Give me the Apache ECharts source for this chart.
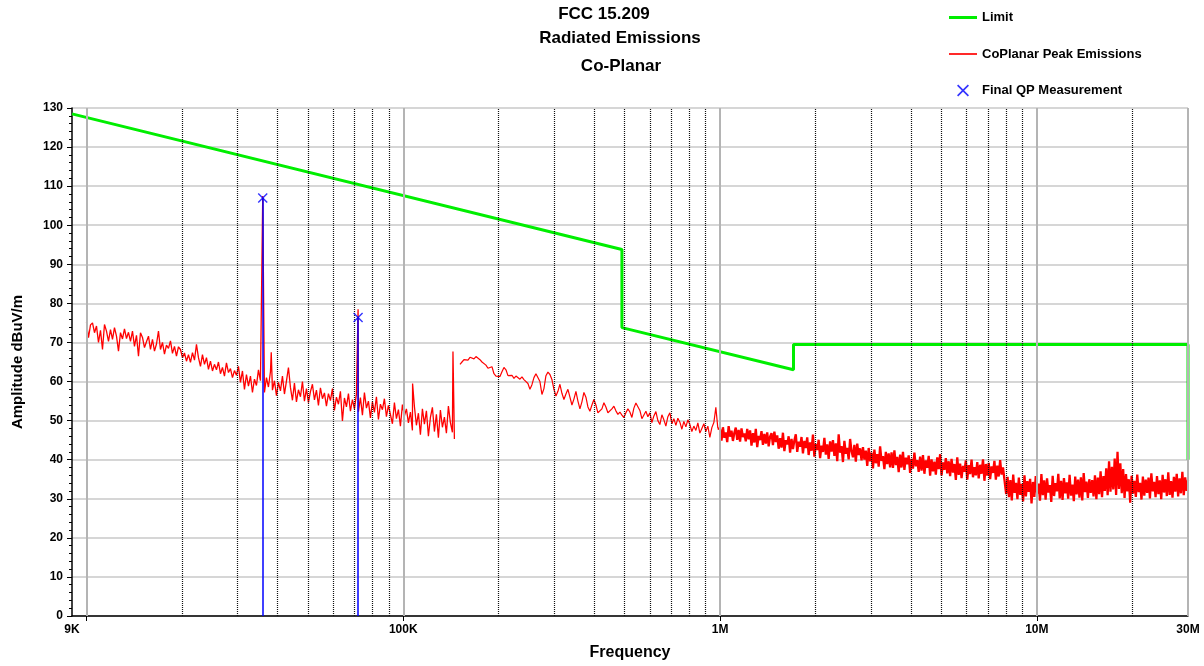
<!DOCTYPE html>
<html>
<head>
<meta charset="utf-8">
<title>FCC 15.209 Radiated Emissions</title>
<script src="https://cdn.jsdelivr.net/npm/echarts@6/dist/echarts.min.js"></script>
<style>
  html, body { margin: 0; padding: 0; background: #fff; }
  #chart { width: 1204px; height: 666px; }
</style>
</head>
<body>
<div id="chart"></div>
<script>
// limit line (dBuV/m)
var limitFreq = [9000, 490000, 490000, 1705000, 1705000, 30000000, 30000000];
var limitLevel = [128.5, 93.8, 73.8, 63.0, 69.5, 69.5, 40.0];

// final QP points
var qpFreq = [36000, 72000];
var qpLevel = [107.0, 76.4];

// peak trace, band 1 : 10K - 145K (sweep points)
var sweepA = [10000, 145000];
var peakA = [
  75.2, 71.2, 74.5, 75.0, 72.5, 74.2, 70.0, 73.1, 68.2, 74.6, 72.9, 70.3, 73.3, 70.8, 73.8, 71.6, 67.8, 72.5, 70.9, 73.5, 71.0, 72.6,
  70.3, 72.9, 69.0, 71.8, 66.5, 72.5, 71.3, 68.7, 70.2, 71.6, 68.2, 70.8, 67.8, 69.6, 72.9, 68.2, 70.0, 67.0, 69.3, 68.5, 70.4, 67.2, 69.0, 66.5, 68.9,
  68.2, 66.1, 67.3, 65.2, 66.9, 64.9, 67.4, 65.5, 69.5, 66.1, 63.9, 66.9, 64.4, 66.1, 63.1, 65.2, 62.7, 64.4, 63.0, 65.0, 62.0, 63.6, 61.4, 64.8, 62.3, 63.3, 61.0, 62.8, 61.6,
  63.9, 59.8, 62.7, 58.0, 61.8, 58.8, 61.4, 57.2, 60.6, 59.0, 63.0, 60.2,
  60.5, 57.2, 61.0, 58.6, 62.5, 57.8, 60.2, 56.4, 59.8, 57.6, 61.4, 56.8, 60.1, 63.6,
  58.5, 55.2, 59.6, 54.8, 57.9, 56.1, 60.0, 55.0, 58.2, 54.6, 57.4, 59.3, 55.3, 57.8, 53.9, 58.4, 55.6, 57.1, 53.7, 56.9, 55.1, 58.2, 52.6, 56.0, 54.2, 57.5, 49.9, 55.8, 53.5, 56.9, 52.4, 55.4, 53.0,
  56.8, 52.3, 55.9, 51.4, 57.2, 53.2, 55.0, 50.7, 54.8, 52.1, 56.1, 50.3, 54.2, 52.8, 55.6, 51.0, 53.9,
  53.4, 49.2, 54.6, 50.5, 52.8, 48.6, 54.1, 51.2, 53.0, 49.4,
  52.2, 47.5, 53.6, 48.8, 51.9, 46.4, 53.0, 49.1, 52.5, 46.0, 50.8, 53.4, 47.2, 51.6, 45.6, 52.7, 48.3, 50.9, 46.8, 53.7, 49.5, 47.0, 45.3
];
// narrow spikes inside band 1
var spikeFreq = [36000, 38300, 72000, 107000, 143500];
var spikeLevel = [107.5, 67.5, 78.5, 59.5, 67.7];

// band 2 : 151K - 984K
var sweepB = [151000, 984000];
var peakB = [
  64.4, 65.0, 65.6, 66.0, 65.5, 66.2, 66.0, 65.8, 66.4, 66.5,
  65.6, 65.0, 65.5, 64.2, 63.4, 63.0, 63.8, 62.0, 61.4, 61.1,
  61.3, 62.5, 63.6, 63.0, 61.5, 61.0, 61.6, 60.8, 61.4, 61.0,
  60.6, 61.2, 60.5, 60.5, 59.5, 58.0, 59.2, 61.0, 62.0, 62.3,
  60.0, 56.7, 58.2, 61.5, 62.4, 61.8, 60.5, 58.0, 56.3, 57.5,
  59.3, 57.0, 55.4, 56.8, 58.0, 56.0, 54.0, 55.5, 57.5, 55.0,
  53.0, 54.8, 57.2, 56.0, 53.5, 52.4, 54.0, 55.4, 54.0, 52.0,
  51.6, 53.0, 54.6, 53.5, 52.0, 52.5, 53.0, 53.7, 52.5, 51.6,
  52.2, 51.4, 50.8, 52.0, 53.0, 52.2, 50.8, 53.2, 54.5, 55.0,
  52.6, 50.5, 50.8, 52.4, 51.0, 52.0, 49.5, 51.2, 52.3, 50.0,
  49.0, 51.5, 50.2, 48.6, 51.0, 52.0, 49.2, 50.5, 48.8, 50.6,
  49.6, 47.8, 49.8, 48.4, 50.2, 49.0, 47.2, 48.6, 47.5, 49.4,
  46.8, 48.0, 49.2, 47.2, 48.6, 45.7, 48.2, 49.5, 53.4, 48.0
];

// band 3 : 1M - 7.9M
var sweepC = [1000000, 7900000];
var peakC = [
  47.8, 44.9, 48.3, 45.6, 47.0, 44.5, 48.6, 45.9, 47.4, 44.8, 46.9, 48.2, 45.1, 47.6, 44.6, 48.0, 45.8, 46.7, 44.7, 47.9,
  45.2, 47.5, 43.6, 46.8, 44.4, 47.9, 43.2, 46.1, 45.0, 47.3, 43.8, 46.6, 44.1, 47.0, 43.4, 45.9, 46.8, 43.7, 47.2, 44.5,
  46.2, 42.8, 45.5, 43.1, 46.9, 42.2, 45.0, 43.9, 46.0, 41.8, 45.3, 42.7, 44.9, 46.5, 42.0, 44.6, 43.3, 45.8, 41.6, 44.8,
  43.0, 45.7, 41.2, 44.4, 42.3, 46.4, 40.8, 44.0, 42.5, 45.1, 40.4, 43.6, 42.0, 45.6, 41.3, 43.9, 40.2, 44.7, 42.1, 45.0,
  41.0, 44.2, 39.6, 46.5, 41.8, 43.5, 39.4, 44.8, 41.5, 43.0, 40.1, 45.3, 42.2, 40.6, 43.8, 39.5, 44.1, 41.2, 42.9, 39.8,
  43.2, 40.0, 42.3, 38.4, 43.0, 39.6, 41.8, 37.8, 42.6, 39.1, 41.4, 38.2, 43.4, 39.7, 40.9, 37.6, 42.0, 38.9, 41.6, 38.0,
  41.9, 37.9, 42.4, 38.6, 40.7, 36.8, 41.3, 38.0, 42.0, 37.4, 40.5, 38.8, 41.1, 36.6, 40.2, 37.7, 41.8, 38.3, 39.9, 36.9,
  40.8, 37.2, 41.2, 36.4, 39.8, 37.9, 41.0, 35.9, 40.1, 37.0, 39.5, 36.2, 40.6, 37.6, 41.4, 36.0, 39.3, 37.4, 40.4, 36.5,
  39.6, 35.8, 40.2, 36.7, 38.9, 34.8, 40.6, 36.1, 39.0, 35.3, 38.4, 36.9, 39.8, 34.9, 38.6, 36.3, 40.0, 35.5, 38.1, 36.0,
  39.4, 35.2, 38.7, 36.4, 40.1, 34.6, 38.9, 35.9, 39.2, 35.0, 38.3, 36.6, 39.7, 34.9, 38.5, 35.7, 39.9, 36.2, 38.0, 37.5
];

// band 4 : 8M - 30M
var sweepD = [8000000, 30000000];
var peakD = [
  31.2, 35.6, 30.4, 34.8, 29.6, 36.2, 31.5, 34.1, 29.9, 35.4, 31.0, 33.8, 29.3, 36.0, 30.6, 34.5, 31.8, 35.1, 28.8, 34.3,
  30.5, 35.8, 31.3, 33.9, 29.5, 36.3, 30.9, 34.7, 29.8, 35.2, 31.6, 33.5, 29.2, 35.9, 30.7, 34.0, 31.9, 36.4, 30.1, 34.6,
  29.7, 35.3, 31.4, 34.2, 30.0, 36.1, 30.8, 33.6, 29.4, 35.7, 31.1, 34.9, 30.3, 35.5, 29.6, 36.6, 31.7, 34.4, 30.2, 35.0,
  31.5, 34.8, 30.6, 36.0, 29.9, 35.4, 31.2, 37.0, 30.4, 35.8, 32.0, 37.8, 30.9, 39.6, 31.8, 38.2, 32.4, 40.3, 31.0, 42.0,
  32.5, 39.1, 31.4, 37.6, 30.2, 36.3, 31.9, 35.0, 29.0, 35.9, 31.3, 34.6, 30.5, 36.2, 31.7, 34.1, 29.8, 35.7, 30.8, 34.9,
  31.5, 35.4, 30.1, 36.5, 31.9, 34.3, 30.4, 35.8, 31.2, 34.7, 29.9, 36.1, 31.6, 35.0, 30.7, 36.8, 31.0, 34.5, 30.3, 35.6,
  31.8, 36.4, 30.6, 35.2, 31.4, 36.9, 30.9, 35.5, 32.0, 34.8
];

// vertical grid frequencies
var decadeGrid = [10000, 100000, 1000000, 10000000, 30000000];
var minorGrid = [20000, 30000, 40000, 50000, 60000, 70000, 80000, 90000,
  200000, 300000, 400000, 500000, 600000, 700000, 800000, 900000,
  2000000, 3000000, 4000000, 5000000, 6000000, 7000000, 8000000, 9000000, 20000000];
var xLabelValues = [9000, 100000, 1000000, 10000000, 30000000];
var yTicks = [0, 130, 10];

var FONT = 'Liberation Sans, Arial, sans-serif';

function pairs(xs, ys) {
  var out = [];
  for (var i = 0; i < xs.length; i++) out.push([xs[i], ys[i]]);
  return out;
}
// spread sweep points log-evenly between start and stop
function sweep(range, amps) {
  var out = [];
  var n = amps.length;
  for (var i = 0; i < n; i++) {
    var f = range[0] * Math.pow(range[1] / range[0], i / (n - 1));
    out.push([Math.round(f), amps[i]]);
  }
  return out;
}

var traceLow = sweep(sweepA, peakA).concat(pairs(spikeFreq, spikeLevel));
traceLow.sort(function (a, b) { return a[0] - b[0]; });
var traceMid = sweep(sweepB, peakB);
// dense part starts where band 2 ends so the trace stays joined
var traceHigh = [traceMid[traceMid.length - 1]].concat(sweep(sweepC, peakC), sweep(sweepD, peakD));

function fmtFreq(v) {
  if (v >= 1000000) return Math.round(v / 1000000) + 'M';
  return Math.round(v / 1000) + 'K';
}

var xMark = 'path://M0,1L1,0L5,4L9,0L10,1L6,5L10,9L9,10L5,6L1,10L0,9L4,5Z';
var thickBar = 'path://M0,0L30,0L30,3.2L0,3.2Z';
var thinBar = 'path://M0,0L30,0L30,1.8L0,1.8Z';

var chart = echarts.init(document.getElementById('chart'));

var titleFont = { fontFamily: FONT, fontSize: 17, fontWeight: 'bold', color: '#000' };

var option = {
  backgroundColor: '#fff',
  animation: false,
  title: [
    { text: 'FCC 15.209', left: 599, top: 1, textAlign: 'center', textStyle: titleFont },
    { text: 'Radiated Emissions', left: 615, top: 25, textAlign: 'center', textStyle: titleFont },
    { text: 'Co-Planar', left: 616, top: 53, textAlign: 'center', textStyle: titleFont }
  ],
  legend: {
    orient: 'vertical',
    left: 944,
    top: 6,
    itemWidth: 28,
    itemHeight: 12,
    itemGap: 23.5,
    textStyle: { fontFamily: FONT, fontSize: 13, fontWeight: 'bold', color: '#000' },
    data: [
      { name: 'Limit', icon: thickBar },
      { name: 'CoPlanar Peak Emissions', icon: thinBar },
      { name: 'Final QP Measurement', icon: xMark }
    ]
  },
  grid: { left: 72, right: 16, top: 108, bottom: 49, containLabel: false },
  xAxis: {
    type: 'log',
    logBase: 10,
    min: 9000,
    max: 30000000,
    name: 'Frequency',
    nameLocation: 'middle',
    nameGap: 29,
    nameTextStyle: { fontFamily: FONT, fontSize: 16, fontWeight: 'bold', color: '#000' },
    axisLine: { onZero: false, lineStyle: { color: '#000', width: 1.5 } },
    axisTick: { show: true, customValues: decadeGrid.slice(0, 4), length: 5, lineStyle: { color: '#000' } },
    axisLabel: {
      customValues: xLabelValues,
      formatter: fmtFreq,
      fontFamily: FONT, fontSize: 12, fontWeight: 'bold', color: '#000', margin: 8
    },
    splitLine: { show: false },
    minorTick: { show: false }
  },
  yAxis: {
    type: 'value',
    min: yTicks[0],
    max: yTicks[1],
    interval: yTicks[2],
    name: 'Amplitude dBuV/m',
    nameLocation: 'middle',
    nameGap: 47,
    nameTextStyle: { fontFamily: FONT, fontSize: 15, fontWeight: 'bold', color: '#000' },
    axisLine: { show: true, lineStyle: { color: '#000', width: 1.5 } },
    axisTick: { show: true, length: 5, lineStyle: { color: '#000' } },
    minorTick: { show: true, splitNumber: 5, length: 3, lineStyle: { color: '#000' } },
    axisLabel: { fontFamily: FONT, fontSize: 12, fontWeight: 'bold', color: '#000', margin: 9 },
    splitLine: { show: true, lineStyle: { color: '#c8c8c8', width: 1.5 } }
  },
  series: [
    {
      // vertical grid lines at the log steps
      name: 'grid',
      type: 'line',
      data: [],
      silent: true,
      z: 1,
      markLine: {
        silent: true,
        symbol: ['none', 'none'],
        label: { show: false },
        animation: false,
        data: minorGrid.map(function (f) {
          return { xAxis: f, lineStyle: { color: '#111', type: [1, 1], width: 1.2 } };
        }).concat(decadeGrid.map(function (f) {
          return { xAxis: f, lineStyle: { color: '#b4b4b4', type: 'solid', width: 2 } };
        }))
      }
    },
    {
      name: 'CoPlanar Peak Emissions',
      type: 'line',
      data: traceLow,
      symbol: 'none',
      z: 3,
      lineStyle: { color: '#ff0000', width: 1.3 },
      itemStyle: { color: '#ff0000' }
    },
    {
      name: 'CoPlanar Peak Emissions',
      type: 'line',
      data: traceMid,
      symbol: 'none',
      z: 3,
      lineStyle: { color: '#ff0000', width: 1.2 },
      itemStyle: { color: '#ff0000' }
    },
    {
      name: 'CoPlanar Peak Emissions',
      type: 'line',
      data: traceHigh,
      symbol: 'none',
      z: 3,
      lineStyle: { color: '#ff0000', width: 2.3 },
      itemStyle: { color: '#ff0000' }
    },
    {
      name: 'Limit',
      type: 'line',
      data: pairs(limitFreq, limitLevel),
      symbol: 'none',
      z: 4,
      lineStyle: { color: '#00ee00', width: 3 },
      itemStyle: { color: '#00ee00' }
    },
    {
      name: 'Final QP Measurement',
      type: 'scatter',
      data: pairs(qpFreq, qpLevel),
      symbol: xMark,
      symbolSize: 10,
      z: 6,
      itemStyle: { color: '#0000ff' },
      markLine: {
        silent: true,
        symbol: ['none', 'none'],
        label: { show: false },
        lineStyle: { color: '#0000ff', type: 'solid', width: 1.5 },
        data: qpFreq.map(function (f, i) {
          return [{ coord: [f, 0] }, { coord: [f, qpLevel[i]] }];
        })
      }
    }
  ]
};

chart.setOption(option);
</script>
</body>
</html>
